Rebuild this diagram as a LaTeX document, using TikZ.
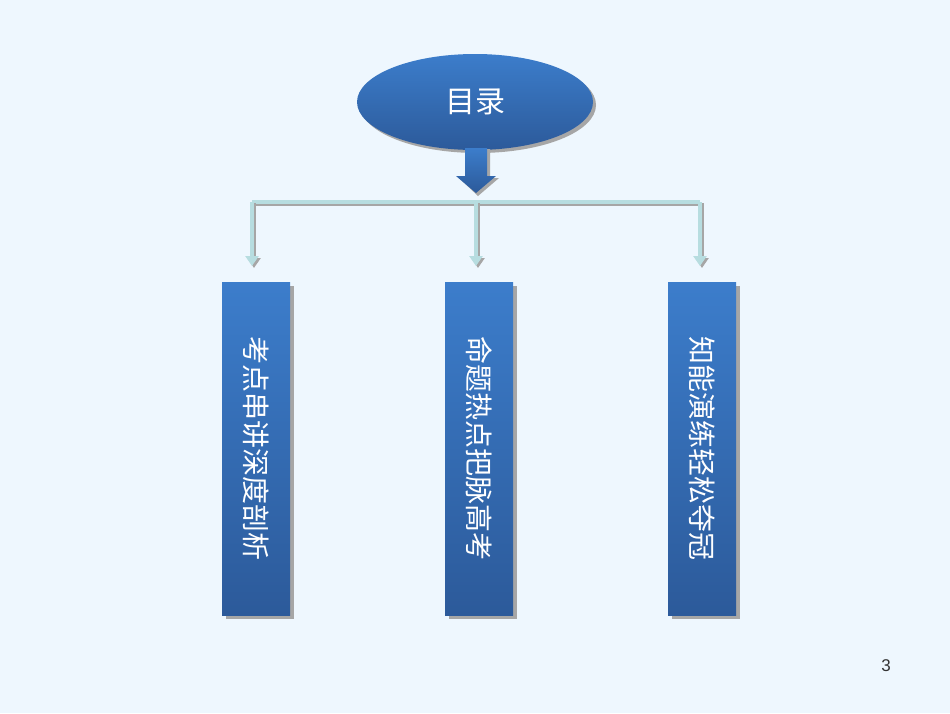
\documentclass[tikz,border=0pt]{standalone}
\usepackage{fontspec}
\newfontfamily\cjk{Noto Sans CJK SC}
\setmainfont{Liberation Sans}
\usetikzlibrary{shapes.geometric,arrows.meta}
\definecolor{bg}{HTML}{EEF7FE}
\definecolor{topb}{HTML}{3C7DCB}
\definecolor{botb}{HTML}{2C5A9A}
\definecolor{conn}{HTML}{B7DDE0}
\tikzset{
 x=1pt,y=-1pt,
 boxst/.style={rectangle,minimum width=68pt,minimum height=333pt,top color=topb,bottom color=botb,draw=none,inner sep=0pt},
 shad/.style={fill=gray!70},
 txt/.style={text=white,font=\cjk\fontsize{28}{30}\selectfont,rotate=-90},
 con/.style={draw=conn,line width=3.5pt,-{Triangle[width=13pt,length=10pt]}},
}
\begin{document}
\begin{tikzpicture}
\fill[bg] (0,0) rectangle (950,713);
\useasboundingbox (0,0) rectangle (950,713);
% ellipse
\fill[gray!70] (478,105) ellipse[x radius=118, y radius=48];
\node[ellipse,minimum width=236pt,minimum height=96pt,top color=topb,bottom color=botb,inner sep=0pt] (root) at (475,102) {};
\node[text=white,font=\cjk\fontsize{30}{32}\selectfont] at (root) {目录};
% big arrow
\fill[gray!70] (468,149) -- (490,149) -- (490,178) -- (499,178) -- (478,196) -- (459,178) -- (468,178) -- cycle;
\shade[top color=topb,bottom color=botb] (465,148) -- (487,148) -- (487,176) -- (496,176) -- (476,193) -- (456,176) -- (465,176) -- cycle;
% connectors
\coordinate (hl) at (252,202);
\coordinate (hr) at (700,202);
\coordinate (hm) at (476,202);
\draw[gray!70,line width=3.5pt] (254,204) -- (702,204);
\draw[conn,line width=3.5pt] (hl) -- (hr);
\foreach \x/\n in {222/a,445/b,668/c}{
  \fill[shad] (\x+4,286) rectangle (\x+72,619);
  \node[boxst,anchor=north west] (\n) at (\x,282) {};
}
\foreach \xx in {254,478,702}{\draw[gray!70,line width=3.5pt,-{Triangle[width=13pt,length=10pt]}] (\xx,203) -- (\xx,268);}
\draw[con] (hl) -- (252,266);
\draw[con] (hm) -- (476,266);
\draw[con] (hr) -- (700,266);
\node[txt] at (a) {考点串讲深度剖析};
\node[txt] at (b) {命题热点把脉高考};
\node[txt] at (c) {知能演练轻松夺冠};
\node[text=black!80,font=\fontsize{17}{18}\selectfont] (pg) at (886,666) {3};
\end{tikzpicture}
\end{document}
